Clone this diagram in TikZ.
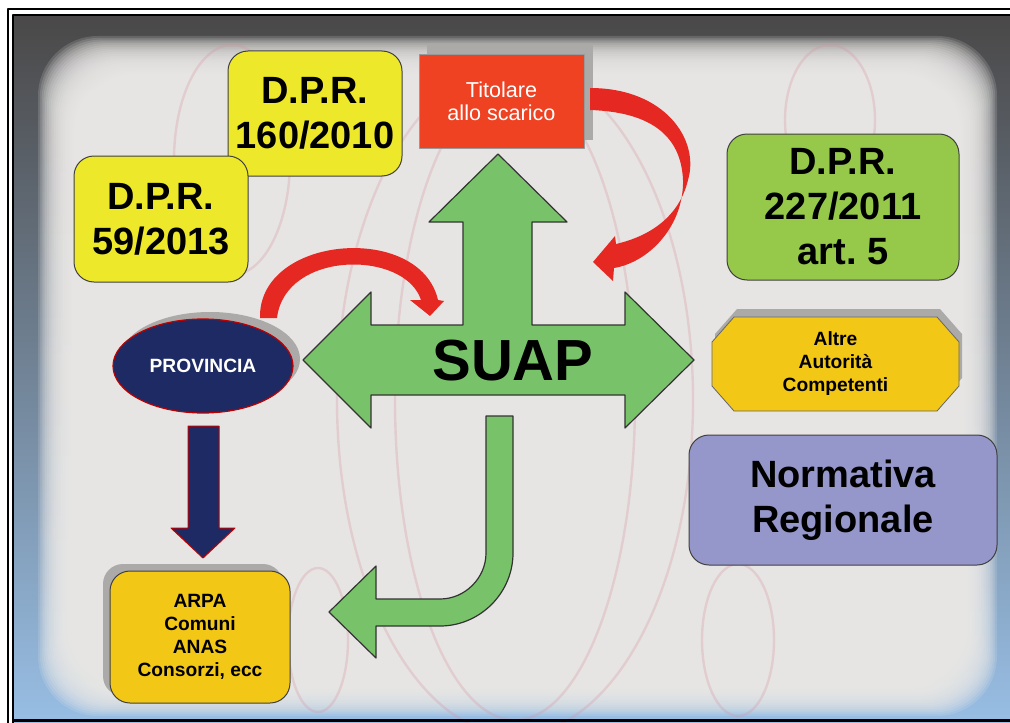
\documentclass[tikz,border=0pt]{standalone}
\usepackage{fontspec}
\setmainfont{Liberation Sans}
\usetikzlibrary{shapes.geometric}

\definecolor{bgdark}{RGB}{74,72,72}
\definecolor{bgmid}{RGB}{120,136,158}
\definecolor{bgblue}{RGB}{152,190,228}
\definecolor{panel}{RGB}{237,235,233}
\definecolor{ghostpink}{RGB}{214,150,165}
\definecolor{shadowgray}{RGB}{172,170,168}
\definecolor{dpryellow}{RGB}{238,232,42}
\definecolor{titred}{RGB}{238,66,34}
\definecolor{dprgreen}{RGB}{150,200,74}
\definecolor{authyellow}{RGB}{242,199,22}
\definecolor{normpurple}{RGB}{149,150,202}
\definecolor{provnavy}{RGB}{30,42,100}
\definecolor{arrowgreen}{RGB}{120,195,105}
\definecolor{curvered}{RGB}{230,40,35}

\begin{document}
\begin{tikzpicture}[x=0.5pt, y=-0.5pt, line join=round,
	roundbox/.style={draw=black!75, line width=0.5pt, rounded corners=10pt, inner sep=0pt, align=center},
	bigtext/.style={font=\bfseries\fontsize{19}{22.5}\selectfont},
	smalltext/.style={font=\bfseries\fontsize{9.6}{11.5}\selectfont},
	shadowbox/.style={fill=shadowgray, draw=none, inner sep=0pt},
	ghost/.style={draw=ghostpink, line width=1.2pt, opacity=0.3},
	blockarrow/.style={fill=arrowgreen, draw=black!80, line width=0.6pt},
	redarrow/.style={fill=curvered, draw=none}]
	
	\useasboundingbox (0,0) rectangle (1010,722);
	
	% =========================================================
	% BACKGROUND: frame and blurred slide
	% =========================================================
	\fill[white] (0,0) rectangle (1010,722);
	\shade[top color=bgdark, middle color=bgmid, bottom color=bgblue] (13,15) rectangle (1010,722);
	
	% Soft-edged light panel
	\foreach \i in {0,...,29}
	\fill[panel, opacity=0.16, rounded corners=30pt] (38+1.8*\i,36+1.8*\i) rectangle (997-1.8*\i,716-1.8*\i);
	
	% Faint circles of the photo behind
	\draw[ghost] (515,400) ellipse (120 and 320);
	\draw[ghost] (515,400) ellipse (178 and 335);
	\draw[ghost] (232,160) ellipse (58 and 115);
	\draw[ghost] (830,120) ellipse (45 and 75);
	\draw[ghost] (318,640) ellipse (30 and 72);
	\draw[ghost] (738,640) ellipse (36 and 76);
	
	% Double frame
	\draw[line width=1.2pt] (8,724) -- (8,9) -- (1012,9);
	\draw[line width=1.2pt] (13,724) -- (13,15) -- (1012,15);
	\draw[line width=1.2pt] (13,720.5) -- (1012,720.5);
	
	% =========================================================
	% CENTRE: SUAP block arrows
	% =========================================================
	% Four-way cross (up, left, right)
	\draw[blockarrow] (498,154) -- (567,222) -- (532,222) -- (532,325) -- (625,325)
	-- (625,292) -- (694,360) -- (625,428) -- (625,395) -- (371,395) -- (371,428)
	-- (303,360) -- (371,292) -- (371,325) -- (463,325) -- (463,222) -- (429,222) -- cycle;
	\node (suap) at (513,361) {\bfseries\fontsize{29}{29}\selectfont SUAP};
	
	% Bent arrow down to the bottom-left box
	\draw[blockarrow] (486,416) -- (513,416) -- (513,553)
	.. controls (513,593) and (480,626) .. (440,626) -- (376,626) -- (376,658)
	-- (329,612) -- (376,566) -- (376,599) -- (440,599)
	.. controls (465,599) and (486,578) .. (486,553) -- cycle;
	
	% =========================================================
	% LEFT: decrees, Provincia, other bodies
	% =========================================================
	\node[roundbox, bigtext, fill=dpryellow, minimum width=87pt, minimum height=62.5pt]
	(dprsixty) at (315,113.5) {D.P.R.\\160/2010};
	\node[roundbox, bigtext, fill=dpryellow, minimum width=87pt, minimum height=63pt]
	(dprfiftynine) at (161,219) {D.P.R.\\59/2013};
	
	% Provincia with its shadow
	\node[shadowbox, ellipse, minimum width=90pt, minimum height=47pt] at (210,359) {};
	\node[ellipse, fill=provnavy, draw=red!75!black, line width=0.6pt, inner sep=0pt,
	minimum width=90pt, minimum height=47pt, text=white, smalltext]
	(provincia) at (203,366) {PROVINCIA};
	
	% Navy arrow down
	\draw[fill=provnavy, draw=red!75!black, line width=0.5pt] (188,426) -- (219,426) -- (219,528)
	-- (235,528) -- (203,558) -- (171,528) -- (188,528) -- cycle;
	
	% Other bodies box
	\node[shadowbox, rounded corners=10pt, minimum width=90pt, minimum height=66pt] at (193,630) {};
	\node[roundbox, smalltext, fill=authyellow, minimum width=90pt, minimum height=66pt]
	(arpa) at (200,637) {ARPA\\Comuni\\ANAS\\Consorzi, ecc};
	
	% Red curved arrow: Provincia to SUAP
	\fill[redarrow] (260,318) .. controls (258,235) and (420,222) .. (438,300)
	-- (444,301) -- (430,316) -- (410,300) -- (421,300)
	.. controls (405,250) and (285,250) .. (277,318) -- cycle;
	
	% =========================================================
	% TOP: holder of the discharge
	% =========================================================
	\node[shadowbox, minimum width=83pt, minimum height=47.5pt] at (510,92.5) {};
	\node[fill=titred, draw=black!40, line width=0.4pt, inner sep=0pt, align=center,
	minimum width=82.5pt, minimum height=47pt, text=white,
	font=\fontsize{10.8}{11.5}\selectfont] (titolare) at (501.5,101) {Titolare\\allo scarico};
	
	% Red curved arrow: Titolare back to SUAP
	\fill[redarrow] (590,88) .. controls (665,88) and (700,140) .. (688,180)
	.. controls (678,222) and (642,238) .. (616,244)
	-- (615,236) -- (593,262) -- (613,281) -- (614,268)
	.. controls (650,262) and (684,225) .. (683,180)
	.. controls (681,135) and (650,112) .. (590,110) -- cycle;
	
	% =========================================================
	% RIGHT: national decree, authorities, regional rules
	% =========================================================
	\node[roundbox, bigtext, fill=dprgreen, minimum width=116pt, minimum height=73pt]
	(dprtwoseven) at (843,207) {D.P.R.\\227/2011\\art.\ 5};
	
	% Octagon for the other authorities, with its shadow
	\fill[shadowgray, shift={(3,-8)}] (734,317) -- (937,317) -- (959,342) -- (959,386)
	-- (937,411) -- (734,411) -- (712,386) -- (712,342) -- cycle;
	\draw[fill=authyellow, draw=black!60, line width=0.4pt] (734,317) -- (937,317) -- (959,342)
	-- (959,386) -- (937,411) -- (734,411) -- (712,386) -- (712,342) -- cycle;
	\node[smalltext, align=center] (altre) at (835.5,364) {Altre\\Autorità\\Competenti};
	
	\node[roundbox, bigtext, fill=normpurple, minimum width=154pt, minimum height=65pt]
	(normativa) at (843,500) {Normativa\\Regionale};
	
\end{tikzpicture}
\end{document}
